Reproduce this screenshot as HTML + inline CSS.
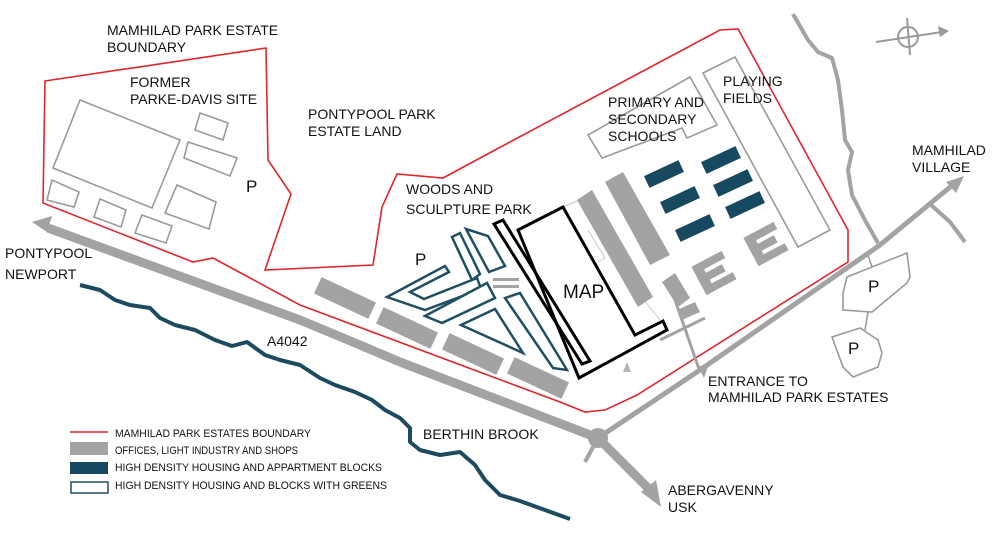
<!DOCTYPE html>
<html><head><meta charset="utf-8"><style>
html,body{margin:0;padding:0;background:#fff;}
svg{display:block;}
text{font-family:"Liberation Sans",Arial,sans-serif;fill:#111;}
</style></head><body>
<svg width="995" height="541" viewBox="0 0 995 541" xmlns="http://www.w3.org/2000/svg">
<!-- red boundary -->
<polygon points="45,81 266,48 268,160 291,194 265,270 373,265 382,207 397,174 443,178 495,150 720,30 738,29 848,230 848,262 637,395 605,410 585,412 560,402 300,305 213,258 193,262 43,203" fill="none" stroke="#e0262c" stroke-width="1.6"/>

<!-- Parke-Davis outlines -->
<g fill="none" stroke="#9a9a9a" stroke-width="1.6">
<polygon points="80,100 180,140 152,208 53,168"/>
<polygon points="200,113 228,123 223,140 195,130"/>
<polygon points="188,142 237,158 230,176 184,158"/>
<polygon points="177,185 216,202 209,229 165,213"/>
<polygon points="52,180 79,192 74,207 47,200"/>
<polygon points="100,199 126,210 121,227 94,217"/>
<polygon points="142,215 172,226 166,243 135,233"/>
<!-- schools / playing fields -->
<polygon points="588,135 690,77 717,125 687,138 682,128 602,158"/>
<polygon points="703,73 735,57 830,230 798,247"/>
<!-- parking lots -->
<polygon points="843,293 847,277 872,267 907,253 910,277 907,283 872,312 843,310"/>
<polygon points="832,337 860,328 878,340 882,353 878,367 853,377 843,367"/>
<line x1="868" y1="255" x2="872" y2="267"/>
<line x1="868" y1="312" x2="865" y2="330"/>
</g>
<!-- faint lines near MAP -->
<g fill="none" stroke="#c8c8c8" stroke-width="1">
<polyline points="563,207 580,200 620,270 660,320"/>
<polyline points="588,230 605,258 598,262"/>
</g>

<!-- roads -->
<g fill="none" stroke="#a3a3a3" stroke-linecap="butt" stroke-linejoin="round">
<polyline points="48,228 300,320 360,345 400,362 598,438 648,488" stroke-width="9"/>
<polyline points="598,438 700,370 880,245 955,183" stroke-width="5"/>
<polyline points="930,204 950,222 965,242" stroke-width="4"/>
<polyline points="598,438 585,462" stroke-width="4"/>
<polyline points="793,14 808,40 818,52 832,58 838,80 842,110 845,140 852,152 848,170 852,195 866,222 878,243" stroke-width="4"/>
<line x1="675" y1="300" x2="700" y2="372" stroke-width="3"/>
<line x1="660" y1="340" x2="705" y2="318" stroke-width="3"/>
</g>
<polygon points="32,222 52,216 47,232" fill="#a3a3a3"/>
<polygon points="661,507 641,492 656,480" fill="#a3a3a3"/>
<polygon points="964,176 946,182 956,193" fill="#a3a3a3"/>
<polygon points="704,378 698,366 708,366" fill="#a3a3a3"/>
<polygon points="627,362 623,372 631,372" fill="#b5b5b5"/>
<circle cx="598" cy="438" r="10" fill="#a3a3a3"/>

<!-- compass -->
<g stroke="#999" stroke-width="2" fill="none">
<circle cx="908" cy="37" r="10"/>
<line x1="876" y1="42" x2="942" y2="32"/>
<line x1="907" y1="18" x2="910" y2="55"/>
</g>
<polygon points="949,31 938,26 940,37" fill="#999"/>

<!-- stream -->
<polyline points="80,285 100,290 115,300 130,305 150,308 160,318 175,325 195,330 215,340 232,346 247,342 265,355 280,360 300,365 320,378 335,385 355,392 372,400 385,410 400,418 410,428 410,442 420,450 440,455 460,452 475,465 485,480 500,495 520,501 545,510 570,519" fill="none" stroke="#1c4b5f" stroke-width="4" stroke-linejoin="round"/>

<!-- grey buildings -->
<g fill="#a3a3a3">
<g transform="translate(345,298) rotate(25)"><rect x="-30" y="-9" width="60" height="18"/></g>
<g transform="translate(407,328) rotate(25)"><rect x="-30" y="-9" width="60" height="18"/></g>
<g transform="translate(473,354) rotate(25)"><rect x="-30" y="-9" width="60" height="18"/></g>
<g transform="translate(538,378) rotate(25)"><rect x="-30" y="-9" width="60" height="18"/></g>
<polygon points="605,182 623,172 670,255 650,265"/>
<polygon points="577,200 592,190 653,297 638,307"/>
<polygon points="662,282 675,273 690,298 678,307"/>
<polygon points="677,310 695,302 700,312 682,320"/>
<g transform="translate(714,273) rotate(-28)"><rect x="-17" y="-16" width="10" height="32"/><rect x="-17" y="-16" width="34" height="8"/><rect x="-17" y="-4" width="28" height="8"/><rect x="-17" y="8" width="34" height="8"/></g>
<g transform="translate(766,244) rotate(-28)"><rect x="-17" y="-16" width="10" height="32"/><rect x="-17" y="-16" width="34" height="8"/><rect x="-17" y="-4" width="28" height="8"/><rect x="-17" y="8" width="34" height="8"/></g>
<rect x="493" y="278" width="26" height="3"/>
<rect x="493" y="285" width="26" height="3"/>
</g>

<!-- dark blocks -->
<g fill="#174a60">
<g transform="translate(664,174) rotate(-25)"><rect x="-19" y="-6.5" width="38" height="13"/></g>
<g transform="translate(721,160) rotate(-25)"><rect x="-19" y="-6.5" width="38" height="13"/></g>
<g transform="translate(680,200) rotate(-25)"><rect x="-19" y="-6.5" width="38" height="13"/></g>
<g transform="translate(733,183) rotate(-25)"><rect x="-19" y="-6.5" width="38" height="13"/></g>
<g transform="translate(695,228) rotate(-25)"><rect x="-19" y="-6.5" width="38" height="13"/></g>
<g transform="translate(745,205) rotate(-25)"><rect x="-19" y="-6.5" width="38" height="13"/></g>
</g>

<!-- teal outlined housing -->
<g fill="#fff" stroke="#1f4f63" stroke-width="2.5" stroke-linejoin="miter">
<polygon points="387,297 445,266 449,272 410,292 424,299 477,278 481,289 425,310"/>
<polygon points="452,237 460,233 480,274 472,280"/>
<polygon points="466,229 488,236 505,266 489,272"/>
<polygon points="425,316 487,283 495,298 442,323"/>
<polygon points="461,325 495,309 523,353"/>
<polygon points="505,298 520,293 567,370 553,368"/>
</g>

<!-- MAP black outline -->
<g fill="none" stroke="#000" stroke-width="3" stroke-linejoin="miter">
<polygon points="494,224 503,220 590,361 582,364"/>
<polygon points="518,230 563,207 635,335 663,321 667,330 579,378"/>
</g>

<!-- labels -->
<g font-size="14">
<text x="107" y="35">MAMHILAD PARK ESTATE</text>
<text x="107" y="52">BOUNDARY</text>
<text x="130" y="87">FORMER</text>
<text x="130" y="104">PARKE-DAVIS SITE</text>
<text x="308" y="119">PONTYPOOL PARK</text>
<text x="308" y="136">ESTATE LAND</text>
<text x="406" y="194">WOODS AND</text>
<text x="406" y="214">SCULPTURE PARK</text>
<text x="608" y="107">PRIMARY AND</text>
<text x="608" y="124">SECONDARY</text>
<text x="608" y="141">SCHOOLS</text>
<text x="723" y="86">PLAYING</text>
<text x="723" y="103">FIELDS</text>
<text x="912" y="155">MAMHILAD</text>
<text x="912" y="172">VILLAGE</text>
<text x="5" y="258">PONTYPOOL</text>
<text x="5" y="279">NEWPORT</text>
<text x="267" y="346">A4042</text>
<text x="423" y="439">BERTHIN BROOK</text>
<text x="708" y="386">ENTRANCE TO</text>
<text x="708" y="402">MAMHILAD PARK ESTATES</text>
<text x="668" y="495">ABERGAVENNY</text>
<text x="668" y="512">USK</text>
</g>
<g font-size="17">
<text x="246" y="192">P</text>
<text x="415" y="265">P</text>
<text x="868" y="292">P</text>
<text x="848" y="354">P</text>
</g>
<text x="563" y="298" font-size="19">MAP</text>

<!-- legend -->
<line x1="70" y1="432" x2="108" y2="432" stroke="#e0262c" stroke-width="1.6"/>
<rect x="70" y="442" width="38" height="13" fill="#a3a3a3"/>
<rect x="70" y="462" width="38" height="12" fill="#174a60"/>
<rect x="71" y="482" width="37" height="11" fill="#fff" stroke="#1f4f63" stroke-width="1.5"/>
<g font-size="11">
<text x="115" y="437" textLength="196" lengthAdjust="spacingAndGlyphs">MAMHILAD PARK ESTATES BOUNDARY</text>
<text x="115" y="454" textLength="183" lengthAdjust="spacingAndGlyphs">OFFICES, LIGHT INDUSTRY AND SHOPS</text>
<text x="115" y="471" textLength="267" lengthAdjust="spacingAndGlyphs">HIGH DENSITY HOUSING AND APPARTMENT BLOCKS</text>
<text x="115" y="489" textLength="272" lengthAdjust="spacingAndGlyphs">HIGH DENSITY HOUSING AND BLOCKS WITH GREENS</text>
</g>
</svg>
</body></html>
